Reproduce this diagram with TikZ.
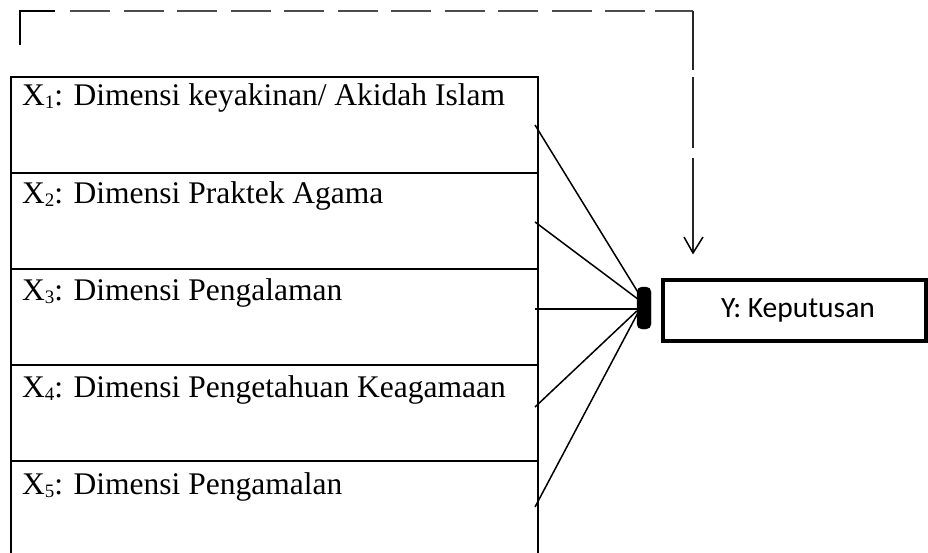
\documentclass[tikz,border=0pt]{standalone}
\usepackage{fontspec}
\setmainfont{Liberation Serif}
\newfontfamily\calfont{Carlito}
\usetikzlibrary{calc,arrows.meta}
\newcommand{\xsub}[1]{\raisebox{-3pt}{\fontsize{19}{19}\selectfont #1}}
\tikzset{
  cell/.style={draw, line width=2pt, minimum width=527pt, minimum height=96pt, anchor=north west, inner sep=0pt},
  celltext/.style={anchor=base west, inner sep=0pt, font=\fontsize{31.5}{34}\selectfont},
  link/.style={line width=1.5pt},
  hubbox/.style={fill=black, draw=black, rounded corners=5pt, minimum width=14pt, minimum height=42pt, inner sep=0pt},
  ybox/.style={draw, line width=4.5pt, minimum width=263pt, minimum height=61pt, inner sep=0pt, font=\calfont\fontsize{29.5}{32}\selectfont},
  fb/.style={line width=2pt, draw=black!70},
  fbv/.style={line width=2pt, draw=black!85}
}
\begin{document}
\begin{tikzpicture}[x=1pt,y=-1pt]
\useasboundingbox (0,0) rectangle (928,553);
\clip (0,0) rectangle (928,553);
% cells
\node[cell] (c1) at (10,76) {};
\node[cell] (c2) at (10,172) {};
\node[cell] (c3) at (10,268) {};
\node[cell] (c4) at (10,364) {};
\node[cell, minimum height=100pt] (c5) at (10,460) {};
\node[celltext] (t1) at ($(c1.north west)+(12,30)$) {X\xsub{1}: Dimensi keyakinan/ Akidah Islam};
\node[celltext] (t2) at ($(c2.north west)+(12,32)$) {X\xsub{2}: Dimensi Praktek Agama};
\node[celltext] (t3) at ($(c3.north west)+(12,32)$) {X\xsub{3}: Dimensi Pengalaman};
\node[celltext] (t4) at ($(c4.north west)+(12,33)$) {X\xsub{4}: Dimensi Pengetahuan Keagamaan};
\node[celltext] (t5) at ($(c5.north west)+(12,34)$) {X\xsub{5}: Dimensi Pengamalan};
% hub and Y
\node[hubbox] (hub) at (644,308) {};
\node[ybox] (y) at (794.5,310.5) {\hspace*{7pt}Y: Keputusan};
% connectors
\coordinate (s1) at (535,125);
\coordinate (s2) at (535,222);
\coordinate (s3) at (535,309);
\coordinate (s4) at (535,407);
\coordinate (s5) at (535,507);
\draw[link] (s1) -- ($(hub.west)+(1,-16)$);
\draw[link] (s2) -- ($(hub.west)+(1,-9)$);
\draw[link] (s3) -- ($(hub.west)+(0,1)$);
\draw[link] (s4) -- ($(hub.west)+(0,3)$);
\draw[link] (s5) -- ($(hub.west)+(1,5)$);
% feedback dashed line
\coordinate (f0) at (20,45);
\coordinate (f1) at (20,11);
\coordinate (f2) at (693,11);
\coordinate (f3) at (693,253);
\coordinate (v1) at (693,70);
\coordinate (v2) at (693,77);
\coordinate (v3) at (693,148);
\coordinate (v4) at (693,158);
\draw[line width=2pt] (f0) -- (f1) -- (55,11);
\draw[fb, dash pattern=on 40pt off 13.5pt] (70,11) -- (650,11);
\draw[fb] (655,11) -- (f2);
\draw[fbv] (f2) -- (v1);
\draw[fbv] (v2) -- (v3);
\draw[fbv] (v4) -- (f3);
\draw[line width=1.5pt] ($(f3)+(-9,-16)$) -- (f3) -- ($(f3)+(10,-16)$);
\end{tikzpicture}
\end{document}
